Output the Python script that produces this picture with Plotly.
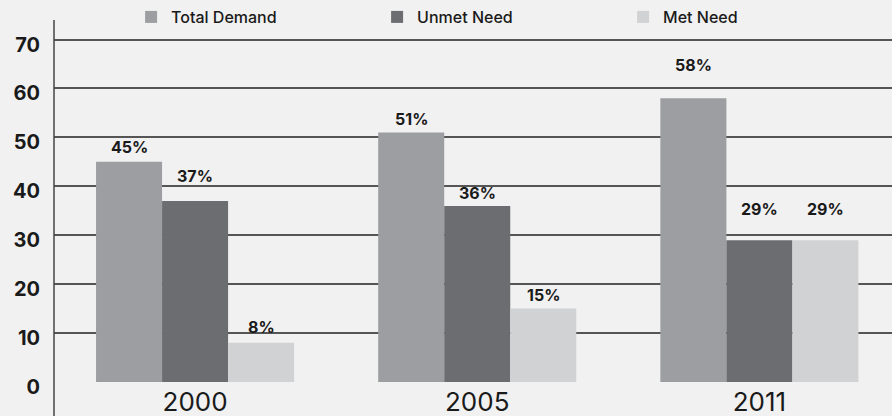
import plotly.graph_objects as go

years = ["2000", "2005", "2011"]
series_names = ["Total Demand", "Unmet Need", "Met Need"]
total_demand = [45, 51, 58]
unmet_need = [37, 36, 29]
met_need = [8, 15, 29]
y_ticks = [0, 10, 20, 30, 40, 50, 60, 70]

values = [total_demand, unmet_need, met_need]
colors = ["#9d9ea1", "#6c6d71", "#d1d2d4"]
# pixel gap between bar top and label centre, per series, per year
label_gap = [[15, 14, 33], [25, 13, 31], [16, 14, 31]]

FONT = "Inter"
BG = "#f1f1f1"
fig = go.Figure()
for name, vals, col in zip(series_names, values, colors):
    fig.add_trace(go.Bar(x=years, y=vals, name=name, marker_color=col,
                         marker_line_width=0))

annotations = []
offsets = [-1, 0, 1]
bar_w = (1 - 0.298) / 3
for si, vals in enumerate(values):
    for yi, v in enumerate(vals):
        annotations.append(dict(
            x=yi + offsets[si] * bar_w, y=v, xref="x", yref="y",
            text=f"{v}%", showarrow=False, yanchor="middle",
            yshift=label_gap[si][yi],
            font=dict(family=FONT, size=16, color="#1a1a1a", weight="bold")))

fig.update_layout(
    width=892, height=416,
    margin=dict(l=54, r=0, t=20, b=34, autoexpand=False),
    paper_bgcolor=BG, plot_bgcolor=BG,
    barmode="group", bargap=0.298, bargroupgap=0,
    showlegend=True,
    legend=dict(orientation="h", x=0.092, xanchor="left", y=1.0, yanchor="top",
                yref="container", entrywidth=201, entrywidthmode="pixels",
                font=dict(family=FONT, size=16, color="#1a1a1a", weight=500),
                bgcolor="rgba(0,0,0,0)", traceorder="normal"),
    annotations=annotations,
    xaxis=dict(type="category", range=[-0.5, 2.47], showgrid=False,
               showline=False, zeroline=False, ticks="",
               tickfont=dict(family=FONT, size=26, color="#1a1a1a"),
               ticklabelstandoff=2, automargin=False),
    yaxis=dict(range=[0, 74], tickvals=y_ticks, showgrid=True,
               gridcolor="#555555", gridwidth=1.5, zeroline=False,
               showline=False, ticks="", automargin=False,
               tickfont=dict(family=FONT, size=20, color="#1a1a1a", weight="bold"),
               ticklabelstandoff=13, ticklabelshift=5),
    shapes=[dict(type="line", xref="paper", yref="paper", x0=0, x1=0,
                 y0=-34 / 362, y1=1, line=dict(color="#444444", width=1.5),
                 layer="above")],
)
fig.write_html(
    "out.html",
    config={"displayModeBar": False},
    post_script=("document.body.style.margin='0';"
                 "document.body.style.background='" + BG + "';"
                 "document.body.style.overflow='hidden';"),
)
